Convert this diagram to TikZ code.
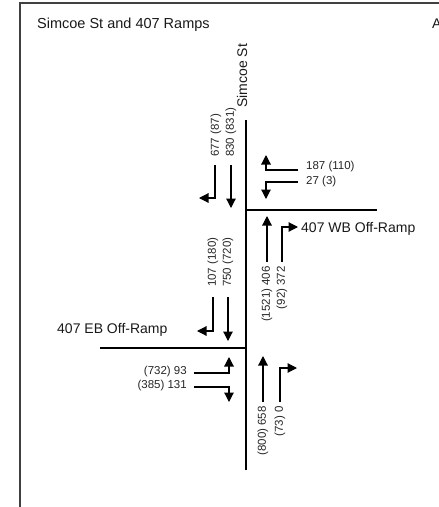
\documentclass[tikz,border=0pt]{standalone}
\usepackage{fontspec}
\setmainfont{Liberation Sans}
\usetikzlibrary{arrows.meta}

\begin{document}
\begin{tikzpicture}[
    x=1pt, y=-1pt,
    road/.style={line width=2.4pt, black},
    mv/.style={line width=1.2pt, black, -{Triangle[length=9.5pt,width=9.5pt]}},
    vol/.style={font=\fontsize{11.5}{13}\selectfont, inner sep=0pt, text=black!85},
    volup/.style={vol, rotate=90},
    lbl/.style={font=\fontsize{14}{16}\selectfont, inner sep=0pt, text=black!90}
]
\useasboundingbox (0,0) rectangle (439,507);

% frame and title
\draw[line width=1.5pt, black!75] (439,3) -- (20,3) -- (20,507);
\node[lbl, anchor=west, font=\fontsize{14.5}{16}\selectfont] (title) at (37,25) {Simcoe St and 407 Ramps};
\node[lbl, anchor=west] (corner) at (432,24) {A};

% roads
\draw[road] (246,120) -- (246,470);
\draw[road] (246,210) -- (377,210);
\draw[road] (100,348) -- (246,348);
\node[lbl, rotate=90, anchor=west] (simcoe) at (242,108) {Simcoe St};
\node[lbl, anchor=west] (wbramp) at (301,229) {407 WB Off-Ramp};
\node[lbl, anchor=west] (ebramp) at (57,330) {407 EB Off-Ramp};

% southbound, north of WB ramp
\draw[mv] (215,165) -- (215,198) -- (199,198);
\draw[mv] (231,165) -- (231,208);
\node[volup, anchor=west] (sbNl) at (216,157) {677 (87)};
\node[volup, anchor=west] (sbNt) at (231,157) {830 (831)};

% WB off-ramp
\draw[mv] (298,170) -- (266,170) -- (266,155);
\draw[mv] (298,182) -- (266,182) -- (266,199);
\node[vol, anchor=west] (wbR) at (306,167) {187 (110)};
\node[vol, anchor=west] (wbL) at (306,182) {27 (3)};

% northbound, between ramps
\draw[mv] (267,262) -- (267,216);
\draw[mv] (282,262) -- (282,227) -- (298,227);
\node[volup, anchor=east] (nbMt) at (267,266) {(1521) 406};
\node[volup, anchor=east] (nbMr) at (282,266) {(92) 372};

% southbound, between ramps
\draw[mv] (213,297) -- (213,331) -- (197,331);
\draw[mv] (228,297) -- (228,341);
\node[volup, anchor=west] (sbMl) at (213,287) {107 (180)};
\node[volup, anchor=west] (sbMt) at (228,287) {750 (720)};

% EB off-ramp
\draw[mv] (194,373) -- (229,373) -- (229,357);
\draw[mv] (194,387) -- (229,387) -- (229,402);
\node[vol, anchor=east] (ebL) at (187,372) {(732) 93};
\node[vol, anchor=east] (ebR) at (187,386) {(385) 131};

% northbound, south of EB ramp
\draw[mv] (263,402) -- (263,356);
\draw[mv] (280,402) -- (280,368) -- (297,368);
\node[volup, anchor=east] (nbSt) at (263,406) {(800) 658};
\node[volup, anchor=east] (nbSr) at (280,406) {(73) 0};
\end{tikzpicture}
\end{document}
